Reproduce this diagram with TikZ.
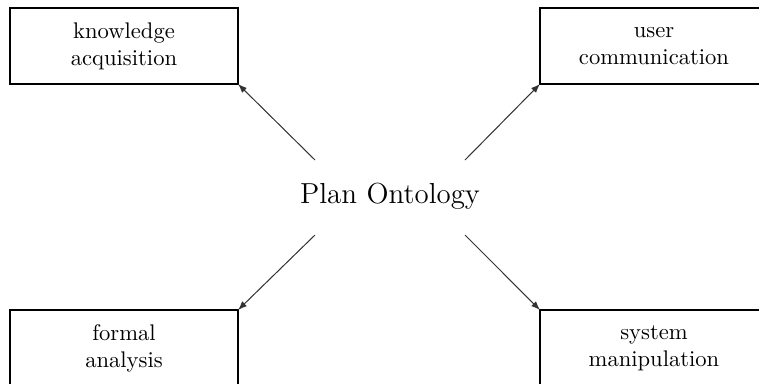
\documentclass[tikz,border=0pt]{standalone}
\usetikzlibrary{arrows.meta}
\begin{document}
\begin{tikzpicture}[x=0.4425pt,y=-0.4425pt,
  box/.style={draw=black,line width=1pt,minimum width=100.9pt,minimum height=33.6pt,
    inner sep=0pt,outer sep=0pt,align=center,font=\normalsize},
  conn/.style={draw=black!80,line width=0.45pt,-{Latex[length=4pt,width=3pt]}}]
\useasboundingbox (0,0) rectangle (759,383);
\clip (0,0) rectangle (759,383);
\node[box] (ka) at (124,46) {knowledge\\acquisition};
\node[box] (uc) at (654,46) {user\\communication};
\node[box] (fa) at (124,348) {formal\\analysis};
\node[box] (sm) at (654,348) {system\\manipulation};
\node[font=\fontsize{12.8}{15}\selectfont] (po) at (390,196) {Plan Ontology};
\coordinate (s1) at (315,160);
\coordinate (s2) at (465,160);
\coordinate (s3) at (315,235);
\coordinate (s4) at (465,235);
\draw[conn] (s1) -- (ka.south east);
\draw[conn] (s2) -- (uc.south west);
\draw[conn] (s3) -- (fa.north east);
\draw[conn] (s4) -- (sm.north west);
\end{tikzpicture}
\end{document}
